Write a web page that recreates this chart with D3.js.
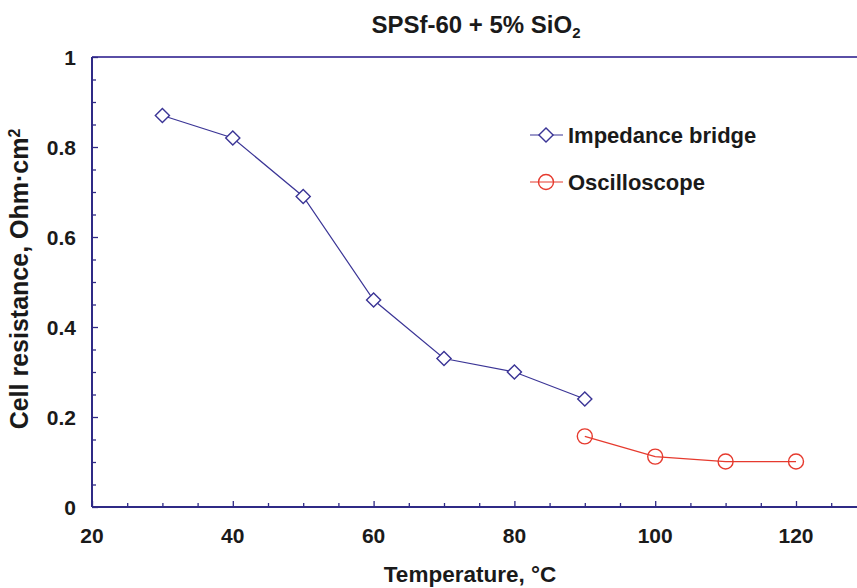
<!DOCTYPE html>
<html>
<head>
<meta charset="utf-8">
<script src="https://cdn.jsdelivr.net/npm/d3@7"></script>
<style>
  body { margin: 0; background: #fff; }
  text { font-family: "Liberation Sans", Arial, sans-serif; font-weight: bold; fill: #1a1a1a; }
</style>
</head>
<body>
<div id="chart"></div>
<script>
// data
const bridgeTemp = [30, 40, 50, 60, 70, 80, 90]
const bridgeRes = [0.87, 0.82, 0.69, 0.46, 0.33, 0.30, 0.24]
const scopeTemp = [90, 100, 110, 120]
const scopeRes = [0.157, 0.112, 0.101, 0.101]
const xTicks = [20, 40, 60, 80, 100, 120]
const yTicks = [0, 0.2, 0.4, 0.6, 0.8, 1]

const width = 857, height = 588
const axisColor = '#2f2a86'
const blue = '#3b3596'
const red = '#e63a2e'

var svg = d3.select('#chart')
  .append('svg')
  .attr('width', width)
  .attr('height', height)

// x domain runs past the right edge, like the cropped original
var x = d3.scaleLinear().domain([20, 130]).range([92, 866.4])
var y = d3.scaleLinear().domain([0, 1]).range([507, 57])

// top frame line
svg.append('line')
  .attr('x1', x(20)).attr('x2', width)
  .attr('y1', y(1)).attr('y2', y(1))
  .attr('stroke', '#5a4fa6').attr('stroke-width', 2)

// ticks point inward, minor every 5 / 0.05
var gx = svg.append('g').attr('transform', `translate(0,${y(0)})`)
gx.call(d3.axisTop(x).tickValues(d3.range(25, 130, 5).filter(d => d % 20 !== 0)).tickSize(4).tickFormat(''))
gx.select('.domain').remove()
var gx2 = svg.append('g').attr('transform', `translate(0,${y(0)})`)
gx2.call(d3.axisTop(x).tickValues(xTicks).tickSize(6).tickFormat(''))
gx2.select('.domain').remove()

var gy = svg.append('g').attr('transform', `translate(${x(20)},0)`)
gy.call(d3.axisRight(y).tickValues(d3.range(0.05, 1, 0.05).filter((d, i) => (i + 1) % 4 !== 0)).tickSize(4).tickFormat(''))
gy.select('.domain').remove()
var gy2 = svg.append('g').attr('transform', `translate(${x(20)},0)`)
gy2.call(d3.axisRight(y).tickValues(yTicks).tickSize(6).tickFormat(''))
gy2.select('.domain').remove()
svg.selectAll('.tick line').attr('stroke', axisColor).attr('stroke-width', 1.3)

// axis lines
svg.append('line')
  .attr('x1', x(20)).attr('x2', width)
  .attr('y1', y(0)).attr('y2', y(0))
  .attr('stroke', axisColor).attr('stroke-width', 2)
svg.append('line')
  .attr('x1', x(20)).attr('x2', x(20))
  .attr('y1', y(0)).attr('y2', y(1))
  .attr('stroke', axisColor).attr('stroke-width', 2)

// tick labels
svg.selectAll('.xlab').data(xTicks).enter().append('text')
  .attr('x', d => x(d)).attr('y', 543)
  .attr('text-anchor', 'middle')
  .style('font-size', '21px')
  .text(d => d)
svg.selectAll('.ylab').data(yTicks).enter().append('text')
  .attr('x', 76).attr('y', d => y(d) + 7.5)
  .attr('text-anchor', 'end')
  .style('font-size', '21px')
  .text(d => +d.toFixed(1))

// titles
svg.append('text')
  .attr('x', 476).attr('y', 33)
  .attr('text-anchor', 'middle')
  .style('font-size', '24px')
  .html('SPSf-60 + 5% SiO<tspan dy="5" style="font-size:15px">2</tspan>')
svg.append('text')
  .attr('x', 470).attr('y', 582)
  .attr('text-anchor', 'middle')
  .style('font-size', '22.5px')
  .text('Temperature, °C')
svg.append('text')
  .attr('transform', 'translate(28,279) rotate(-90)')
  .attr('text-anchor', 'middle')
  .style('font-size', '25px')
  .html('Cell resistance, Ohm·cm<tspan dy="-8" style="font-size:16px">2</tspan>')

// series
var line = d3.line().x(d => x(d[0])).y(d => y(d[1]))
var bridge = d3.zip(bridgeTemp, bridgeRes)
var scope = d3.zip(scopeTemp, scopeRes)

svg.append('path').datum(bridge)
  .attr('d', line).attr('fill', 'none').attr('stroke', blue).attr('stroke-width', 1.2)
var diamond = d3.symbol().type(d3.symbolSquare).size(100)
svg.selectAll('.dia').data(bridge).enter().append('path')
  .attr('d', diamond)
  .attr('transform', d => `translate(${x(d[0])},${y(d[1])}) rotate(45)`)
  .attr('fill', '#fff').attr('stroke', blue).attr('stroke-width', 1.4)

svg.append('path').datum(scope)
  .attr('d', line).attr('fill', 'none').attr('stroke', red).attr('stroke-width', 1.2)
svg.selectAll('.circ').data(scope).enter().append('circle')
  .attr('cx', d => x(d[0])).attr('cy', d => y(d[1])).attr('r', 7.5)
  .attr('fill', 'none').attr('stroke', red).attr('stroke-width', 1.4)

// legend
var legend = [
  { name: 'Impedance bridge', color: blue, y: 135, shape: 'diamond' },
  { name: 'Oscilloscope', color: red, y: 182, shape: 'circle' }
]
legend.forEach(l => {
  svg.append('line').attr('x1', 530).attr('x2', 563).attr('y1', l.y).attr('y2', l.y)
    .attr('stroke', l.color).attr('stroke-width', 1.2)
  if (l.shape === 'diamond') {
    svg.append('path').attr('d', diamond)
      .attr('transform', `translate(546,${l.y}) rotate(45)`)
      .attr('fill', '#fff').attr('stroke', l.color).attr('stroke-width', 1.4)
  } else {
    svg.append('circle').attr('cx', 546).attr('cy', l.y).attr('r', 7.5)
      .attr('fill', 'none').attr('stroke', l.color).attr('stroke-width', 1.4)
  }
  svg.append('text').attr('x', 568).attr('y', l.y + 8)
    .style('font-size', '22px').text(l.name)
})
</script>
</body>
</html>
